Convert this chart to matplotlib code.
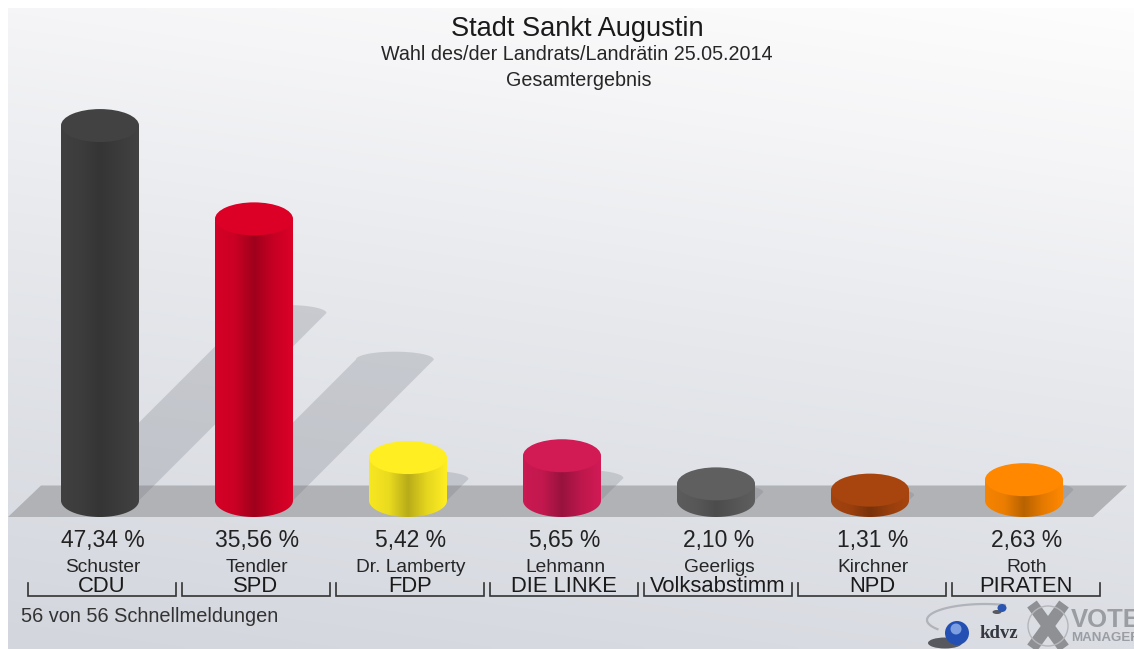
import numpy as np
import matplotlib
matplotlib.use("Agg")
import matplotlib.pyplot as plt
from matplotlib.patches import Ellipse, PathPatch, Polygon
from matplotlib.path import Path
from matplotlib.colors import LinearSegmentedColormap, to_rgb

candidates = ["Schuster", "Tendler", "Dr. Lamberty", "Lehmann", "Geerligs", "Kirchner", "Roth"]
parties = ["CDU", "SPD", "FDP", "DIE LINKE", "Volksabstimm", "NPD", "PIRATEN"]
votes = [47.34, 35.56, 5.42, 5.65, 2.10, 1.31, 2.63]
vote_labels = ["47,34 %", "35,56 %", "5,42 %", "5,65 %", "2,10 %", "1,31 %", "2,63 %"]
colors = ["#424242", "#dc0027", "#ffee22", "#d21a55", "#5f5f5f", "#a8450e", "#ff8800"]

W, H = 1134, 649
PX_X = 154.0    # pixels per category
PX_Y = 7.92     # pixels per percent
X0, Y0 = 100.0, 500.5

plt.rcParams["font.family"] = ["Liberation Sans", "DejaVu Sans"]

fig = plt.figure(figsize=(W / 100, H / 100), dpi=100, facecolor="white")
ax = fig.add_axes([0, 0, 1, 1])
xlim = (-X0 / PX_X, (W - X0) / PX_X)
ylim = (-(H - Y0) / PX_Y, Y0 / PX_Y)


def px(x, y):
    # picture pixels to data units, only for decoration and text placing
    return (x - X0) / PX_X, (Y0 - y) / PX_Y


def dx(n):
    return n / PX_X


def dy(n):
    return n / PX_Y


# background, lightest in the upper right, greyest in the lower left
yy, xx = np.mgrid[0:1:160j, 0:1:280j]
shade = 0.2 * (1 - xx) + 0.8 * yy
bg_cmap = LinearSegmentedColormap.from_list(
    "bg", [(0, "#fdfdfd"), (0.2, "#f5f5f7"), (0.5, "#e6e8ec"), (1, "#d3d6dd")])
x1, y1 = px(8, 649)
x2, y2 = px(1134, 8)
ax.imshow(shade, cmap=bg_cmap, vmin=0, vmax=1, extent=(x1, x2, y1, y2),
          origin="upper", aspect="auto", interpolation="bilinear", zorder=0)

# floor band
floor = [px(8, 517), px(41, 485.5), px(1127, 485.5), px(1093, 517)]
ax.add_patch(Polygon(floor, closed=True, fc="#b0b2b6", ec="none", zorder=1))

R = 39.0
EB = 16.5

# cast shadow: the base ellipse swept up to the right, length follows the value
for i, v in enumerate(votes):
    s = 0.5 * v * PX_Y
    cx = X0 + i * PX_X
    a = np.linspace(np.pi, 0, 40)
    cap = [px(cx + s + R * np.cos(k), Y0 - s - 8 * np.sin(k)) for k in a]
    pts = [px(cx - R, Y0)] + cap + [px(cx + R, Y0)]
    ax.add_patch(Polygon(pts, closed=True, fc="#72767e", ec="none", alpha=0.25, zorder=2))

# cylinders
for i, (v, c) in enumerate(zip(votes, colors)):
    base = np.array(to_rgb(c))
    depth = 0.8 if max(base) - min(base) < 0.05 else 0.72
    cmap = LinearSegmentedColormap.from_list(
        "side", [(0, base * 0.97), (0.25, base * 0.92), (0.5, base * depth),
                 (0.75, base * 0.9), (1, base)])
    w = dx(2 * R)
    eh = dy(2 * EB)
    t = np.linspace(0, np.pi, 60)
    # outline: bottom half ellipse, then up the side to the top
    bx = i + w / 2 * np.cos(t)
    by = -eh / 2 * np.sin(t)
    verts = list(zip(bx, by)) + [(i - w / 2, v), (i + w / 2, v), (i + w / 2, 0)]
    outline = Path(verts + [verts[0]], closed=True)
    body = PathPatch(outline, fc="none", ec="none", transform=ax.transData, zorder=3)
    ax.add_patch(body)
    im = ax.imshow(np.linspace(0, 1, 128).reshape(1, -1), cmap=cmap, vmin=0, vmax=1,
                   extent=(i - w / 2, i + w / 2, -eh, v), aspect="auto", zorder=3)
    im.set_clip_path(body)
    ax.add_patch(Ellipse((i, v), w, eh, fc=base, ec="none", zorder=4))

# title block
ax.text(*px(577, 29), "Stadt Sankt Augustin", fontsize=19.6, ha="center", va="center", color="#1a1a1a", zorder=6)
ax.text(*px(577, 55), "Wahl des/der Landrats/Landrätin 25.05.2014", fontsize=14.2, ha="center", va="center", color="#262626", zorder=6)
ax.text(*px(579, 81), "Gesamtergebnis", fontsize=14.2, ha="center", va="center", color="#262626", zorder=6)

# value labels and candidate / party brackets
for i in range(len(votes)):
    x = X0 + i * PX_X
    ax.text(*px(x + 3, 540), vote_labels[i], fontsize=16.5, ha="center", va="center", color="#222222", zorder=6)
    ax.text(*px(x + 3, 568), candidates[i], fontsize=13.8, ha="center", va="center", color="#262626", zorder=6)
    ax.text(*px(x + 2, 587), parties[i], fontsize=15.8, ha="center", va="center", color="#1a1a1a", zorder=6)
    br = [px(x - 72, 583), px(x - 72, 596), px(x + 76, 596), px(x + 76, 583)]
    ax.plot(*zip(*br), color="#333333", lw=1.2, solid_joinstyle="miter", zorder=6)

ax.text(*px(21, 617), "56 von 56 Schnellmeldungen", fontsize=14.4, ha="left", va="center", color="#333333", zorder=6)

# kdvz / VoteManager logo
a = np.radians(np.linspace(70, 215, 50))
ax.plot(*px(985 + 58 * np.cos(a), 620 - 16 * np.sin(a)), color="#b0b3b9", lw=1.6, zorder=5)
ax.add_patch(Ellipse(px(945, 643), dx(34), dy(11), fc="#2c2d33", ec="none", alpha=0.75, zorder=5))
ax.add_patch(Ellipse(px(957, 633), dx(24), dy(24), fc="#2450b4", ec="none", zorder=5))
ax.add_patch(Ellipse(px(956, 629), dx(11), dy(11), fc="#7d9ee0", ec="none", zorder=5))
ax.add_patch(Ellipse(px(997, 612), dx(9), dy(4), fc="#2c2d33", ec="none", alpha=0.75, zorder=5))
ax.add_patch(Ellipse(px(1002, 608), dx(9), dy(8), fc="#2a55b0", ec="none", zorder=5))
ax.text(*px(999, 633), "kdvz", fontsize=13.5, fontweight="bold", family=["Liberation Serif", "DejaVu Serif"],
        ha="center", va="center", color="#353840", zorder=6)
ax.plot(*px(np.array([1032, 1064]), np.array([648, 604])), color="#8e9094", lw=8.5, solid_capstyle="butt", zorder=5)
ax.plot(*px(np.array([1032, 1064]), np.array([604, 648])), color="#8e9094", lw=8.5, solid_capstyle="butt", zorder=5)
ax.add_patch(Ellipse(px(1048, 626), dx(40), dy(40), fc="none", ec="#b4b6ba", lw=1.0, zorder=5))
ax.text(*px(1071, 620), "VOTE", fontsize=18.5, fontweight="bold", ha="left", va="center", color="#9a9da1", zorder=6, clip_on=True)
ax.text(*px(1071, 638), "MANAGER", fontsize=9.6, fontweight="bold", ha="left", va="center", color="#9a9da1", zorder=6, clip_on=True)

ax.set_xlim(xlim)
ax.set_ylim(ylim)
ax.axis("off")
fig.savefig("out.png", dpi=100, facecolor="white")
